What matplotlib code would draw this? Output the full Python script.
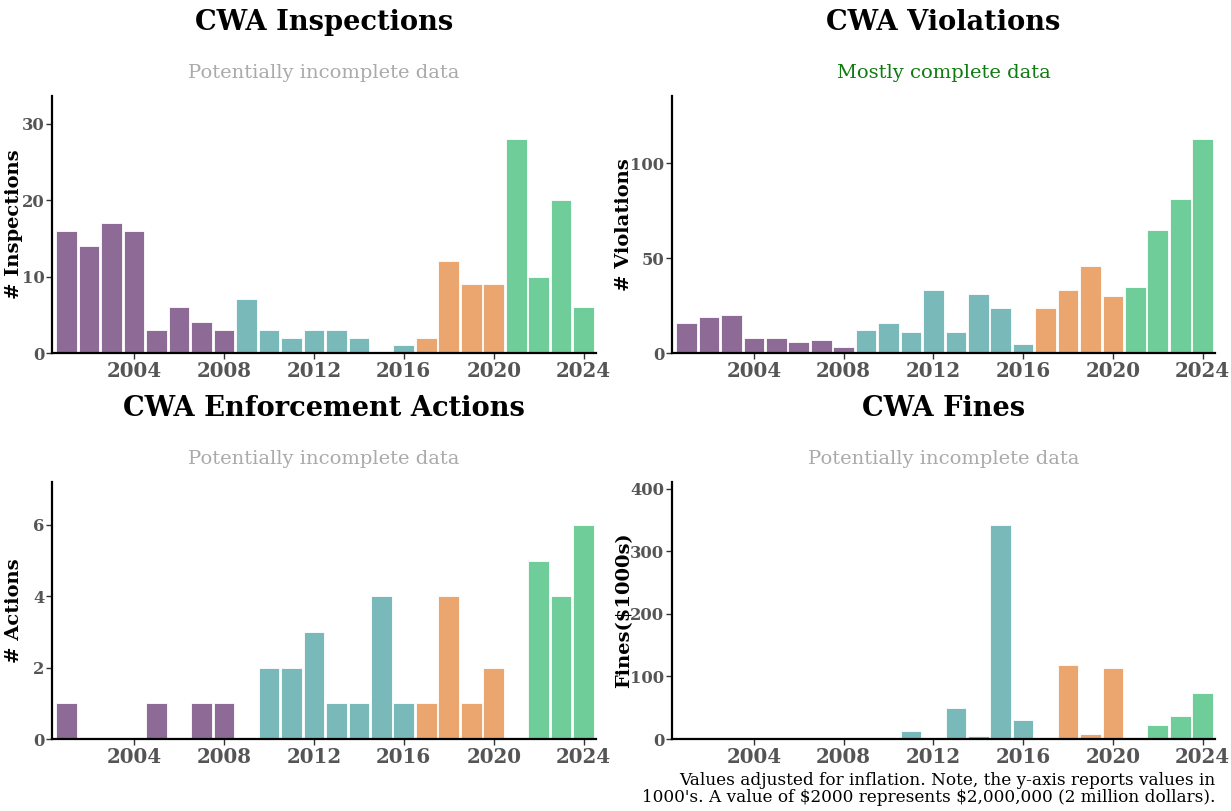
import numpy as np
import matplotlib
matplotlib.use("Agg")
import matplotlib.pyplot as plt

plt.rcParams['font.family'] = ['DejaVu Serif']

years = list(range(2001, 2025))

inspections = [16, 14, 17, 16, 3, 6, 4, 3, 7, 3, 2, 3, 3, 2, 0, 1, 2, 12, 9, 9, 28, 10, 20, 6]
violations = [16, 19, 20, 8, 8, 6, 7, 3, 12, 16, 11, 33, 11, 31, 24, 5, 24, 33, 46, 30, 35, 65, 81, 113]
actions = [1, 0, 0, 0, 1, 0, 1, 1, 0, 2, 2, 3, 1, 1, 4, 1, 1, 4, 1, 2, 0, 5, 4, 6]
fines = [0, 0, 0, 0, 0, 0, 0, 0, 0, 0, 12, 0, 49, 5, 342, 31, 0, 118, 8, 114, 0, 23, 37, 74]

# colour per administration
term_colors = {
    "bush": "#8e6a97",
    "obama": "#79b9b9",
    "trump": "#eba56e",
    "biden": "#6fcd99",
}

def bar_color(y):
    if y <= 2008:
        return term_colors["bush"]
    elif y <= 2016:
        return term_colors["obama"]
    elif y <= 2020:
        return term_colors["trump"]
    return term_colors["biden"]

colors = [bar_color(y) for y in years]

panels = [
    ("CWA Inspections", "Potentially incomplete data", "#aaaaaa", "# Inspections", inspections, [0, 10, 20, 30]),
    ("CWA Violations", "Mostly complete data", "#0f7a0f", "# Violations", violations, [0, 50, 100]),
    ("CWA Enforcement Actions", "Potentially incomplete data", "#aaaaaa", "# Actions", actions, [0, 2, 4, 6]),
    ("CWA Fines", "Potentially incomplete data", "#aaaaaa", "Fines($1000s)", fines, [0, 100, 200, 300, 400]),
]

W, H = 1231, 811
fig = plt.figure(figsize=(W / 100, H / 100), dpi=100)

boxes = [
    (52, 96, 596, 353),
    (672, 96, 1215, 353),
    (52, 482, 596, 739),
    (672, 482, 1215, 739),
]
# right edge of the y label, pixels left of the axis
label_off = [29, 39, 29, 39]

for (title, sub, subcol, ylab, vals, yt), (x0, y0, x1, y1), off in zip(panels, boxes, label_off):
    ax = fig.add_axes([x0 / W, 1 - y1 / H, (x1 - x0) / W, (y1 - y0) / H])
    ax.bar(years, vals, width=0.92, color=colors, edgecolor="white", linewidth=0.6)
    ax.set_xlim(2000.35, 2024.55)
    ax.set_ylim(0, max(vals) * 1.2)
    ax.set_xticks([2004, 2008, 2012, 2016, 2020, 2024])
    ax.set_yticks(yt)
    for lab in ax.get_xticklabels():
        lab.set_fontsize(14.3)
        lab.set_fontweight("bold")
        lab.set_color("#555555")
    for lab in ax.get_yticklabels():
        lab.set_fontsize(11.8)
        lab.set_fontweight("bold")
        lab.set_color("#555555")
    ax.tick_params(axis="both", length=4.5, width=1, color="#333333", pad=1)
    for s in ["top", "right"]:
        ax.spines[s].set_visible(False)
    for s in ["left", "bottom"]:
        ax.spines[s].set_linewidth(1.6)
        ax.spines[s].set_color("black")
    ax.set_ylabel(ylab, fontsize=14, fontweight="bold")
    ax.yaxis.set_label_coords(-off / (x1 - x0), 0.5)
    ax.text(0.5, 1 + 74 / (y1 - y0), title, transform=ax.transAxes, ha="center", va="center",
            fontsize=19.6, fontweight="bold")
    ax.text(0.5, 1 + 23 / (y1 - y0), sub, transform=ax.transAxes, ha="center", va="center",
            fontsize=14.0, color=subcol)

fig.text(1215 / W, 1 - 772 / H,
         "Values adjusted for inflation. Note, the y-axis reports values in\n"
         "1000's. A value of \\$2000 represents \\$2,000,000 (2 million dollars).",
         ha="right", va="top", fontsize=12.2, linespacing=1.0)

fig.savefig("out.png", dpi=100)
